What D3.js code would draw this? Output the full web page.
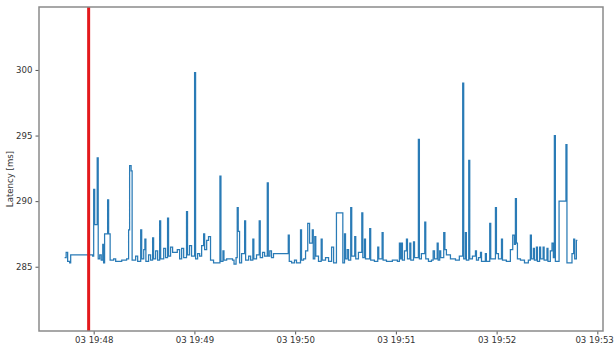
<!DOCTYPE html>
<html>
<head>
<meta charset="utf-8">
<script src="https://cdn.jsdelivr.net/npm/d3@7"></script>
<style>
  body { margin: 0; background: #fff; }
  svg { font-family: "DejaVu Sans", sans-serif; }
</style>
</head>
<body>
<div id="chart"></div>
<script>
// seconds after 19:47:00 on the 3rd, and latency in ms at that moment
const secs = [
  42.7, 43.6, 44.5, 45.7, 46.3, 59.4, 60.0, 60.6, 62.1, 62.7, 63.6, 64.5, 65.4, 65.9, 66.5, 68.3, 68.9, 69.8,
  71.9, 73.1, 76.7, 79.6, 80.8, 81.4, 82.3, 82.9, 85.0, 86.2, 88.0, 88.6, 89.8, 90.5, 91.1, 92.7, 93.9,
  95.1, 95.7, 96.9, 98.1, 99.3, 99.9, 101.7, 102.8, 104.0, 104.6, 105.8, 107.0, 109.8, 111.2, 112.4,
  113.6, 115.3, 115.9, 117.1, 118.3, 120.1, 120.7, 121.9, 123.1, 124.3, 125.5, 126.1, 127.3, 128.4,
  129.6, 131.4, 135.2, 135.8, 137.0, 137.6, 139.2, 142.7, 143.6, 144.8, 145.5, 146.1, 146.9, 148.1,
  149.9, 150.5, 152.3, 153.5, 154.8, 155.4, 157.0, 158.6, 159.2, 160.6, 161.8, 163.4, 164.0, 164.9,
  165.9, 167.1, 168.9, 175.9, 176.5, 177.9, 179.6, 180.8, 183.2, 183.8, 185.0, 186.2, 187.5, 188.6,
  190.2, 190.8, 191.7, 192.3, 193.9, 195.5, 196.1, 198.1, 199.9, 201.7, 202.9, 204.6, 208.4, 209.4,
  210.0, 211.0, 211.8, 213.1, 213.7, 215.5, 216.1, 217.7, 219.7, 220.3, 221.3, 221.9, 224.4, 225.0,
  227.2, 229.2, 229.8, 231.8, 232.4, 234.4, 237.9, 240.9, 242.1, 242.7, 243.3, 243.9, 245.1, 246.3,
  246.9, 248.3, 248.9, 250.5, 251.1, 253.4, 254.0, 255.2, 257.2, 257.8, 259.4, 261.2, 262.2, 263.0,
  264.6, 265.2, 266.1, 266.7, 268.5, 269.2, 270.1, 272.5, 275.5, 277.8, 279.8, 280.4, 281.4, 282.0,
  283.4, 284.0, 285.6, 287.4, 288.0, 289.2, 290.4, 291.0, 293.3, 293.9, 295.9, 296.5, 299.3, 299.9,
  301.1, 302.9, 303.5, 305.8, 308.2, 309.6, 310.6, 311.2, 311.8, 312.4, 314.2, 316.6, 318.9, 320.1,
  320.7, 321.9, 322.5, 323.7, 324.3, 325.6, 326.2, 327.7, 328.3, 330.0, 330.6, 332.0, 333.0, 333.8,
  334.4, 335.0, 337.2, 341.3, 341.9, 344.5, 344.9, 345.9, 346.5, 347.5, 348.1
];
const latency = [
  285.7, 286.1, 285.4, 285.3, 285.9, 285.8, 290.9, 288.2, 293.3, 285.6, 285.9, 285.5, 286.7, 285.3, 287.5, 290.1, 287.5, 285.5,
  285.6, 285.4, 285.5, 285.6, 287.8, 292.7, 292.3, 285.5, 285.8, 285.4, 287.8, 285.6, 286.3, 287.1, 285.4, 285.9, 285.5,
  287.2, 285.6, 286.2, 285.5, 288.5, 285.6, 286.4, 285.7, 288.7, 285.8, 286.5, 286.1, 286.3, 285.6, 286.4,
  285.7, 289.2, 285.9, 286.6, 285.8, 299.8, 285.6, 286.0, 285.8, 286.6, 287.5, 286.3, 287.0, 287.3,
  285.5, 285.3, 291.9, 285.4, 286.2, 285.5, 285.6, 285.5, 285.2, 285.7, 289.5, 287.7, 285.3, 286.0,
  288.5, 285.5, 285.8, 285.5, 287.1, 285.6, 285.9, 288.5, 285.7, 286.1, 285.8, 291.4, 285.8, 286.2,
  285.7, 286.0, 286.0, 287.4, 285.4, 285.3, 285.5, 285.3, 287.8, 285.5, 285.6, 286.2, 288.3, 286.8,
  287.8, 285.6, 287.3, 285.8, 285.4, 287.1, 285.5, 285.7, 285.4, 286.5, 285.3, 289.1, 285.3, 287.5,
  285.6, 286.3, 285.5, 289.5, 285.8, 287.3, 285.6, 286.1, 289.1, 285.7, 287.1, 285.6, 287.9, 285.5,
  285.4, 286.5, 285.6, 287.6, 285.5, 285.4, 285.5, 285.4, 286.8, 285.6, 286.8, 285.5, 286.2, 287.1,
  285.6, 286.8, 285.5, 286.9, 285.7, 294.7, 285.6, 286.0, 288.4, 285.6, 285.4, 285.5, 286.2, 285.6,
  286.8, 285.5, 286.2, 285.7, 287.6, 286.3, 285.9, 285.6, 285.5, 285.8, 299.0, 285.6, 287.6, 285.5,
  293.1, 285.6, 285.8, 286.2, 285.5, 285.7, 286.1, 285.4, 286.0, 285.4, 288.3, 285.6, 289.5, 286.0,
  285.6, 287.1, 285.5, 285.4, 286.3, 287.4, 286.7, 290.2, 286.8, 285.6, 285.5, 285.3, 285.5, 287.4,
  285.6, 286.4, 285.5, 286.5, 285.4, 286.5, 285.6, 286.5, 285.5, 286.4, 285.4, 286.2, 286.8, 285.7,
  295.0, 285.4, 290.0, 294.3, 285.3, 285.3, 286.0, 287.1, 285.6, 287.0, 287.0
];
const markerSec = 57.0;          // red vertical marker
const yLimits = [280.1, 304.8];
const yTickValues = [285, 290, 295, 300];

const width = 614, height = 347;
const margin = { top: 7, right: 11, bottom: 16, left: 39 };

const base = new Date(2021, 0, 3, 19, 47, 0);
const toDate = s => new Date(base.getTime() + s * 1000);
const data = secs.map((s, i) => ({ t: toDate(s), v: latency[i] }));

const svg = d3.select('#chart')
  .append('svg')
  .attr('width', width)
  .attr('height', height);

const ext = d3.extent(secs);
const pad = (ext[1] - ext[0]) * 0.05;
const x = d3.scaleTime()
  .domain([toDate(ext[0] - pad), toDate(ext[1] + pad)])
  .range([margin.left, width - margin.right]);

const y = d3.scaleLinear()
  .domain(yLimits)
  .range([height - margin.bottom, margin.top]);

// data line
const line = d3.line()
  .x(d => x(d.t))
  .y(d => y(d.v))
  .curve(d3.curveStepAfter);

svg.append('path')
  .datum(data)
  .attr('d', line)
  .attr('fill', 'none')
  .attr('stroke', '#2a7bb6')
  .attr('stroke-width', 1.25);

// red marker
svg.append('line')
  .attr('x1', x(toDate(markerSec)))
  .attr('x2', x(toDate(markerSec)))
  .attr('y1', margin.top)
  .attr('y2', height - margin.bottom)
  .attr('stroke', '#e3191c')
  .attr('stroke-width', 3);

// axes
const xAxis = d3.axisBottom(x)
  .ticks(d3.timeMinute.every(1))
  .tickFormat(d3.timeFormat('%d %H:%M'))
  .tickSize(3.5)
  .tickPadding(2.5);
const yAxis = d3.axisLeft(y)
  .tickValues(yTickValues)
  .tickSize(3.5)
  .tickPadding(3);

const gx = svg.append('g')
  .attr('transform', `translate(0,${height - margin.bottom})`)
  .call(xAxis);
const gy = svg.append('g')
  .attr('transform', `translate(${margin.left},0)`)
  .call(yAxis);

[gx, gy].forEach(g => {
  g.select('.domain').remove();
  g.selectAll('.tick line').attr('stroke', '#555');
  g.selectAll('.tick text')
    .attr('fill', '#333')
    .style('font-size', '8.6px')
    .style('font-family', '"DejaVu Sans", sans-serif');
});

// last x label sits against the right edge of the picture
gx.selectAll('.tick text')
  .filter((d, i, n) => i === n.length - 1)
  .attr('text-anchor', 'end')
  .attr('dx', '16');

// frame
svg.append('rect')
  .attr('x', margin.left)
  .attr('y', margin.top)
  .attr('width', width - margin.left - margin.right)
  .attr('height', height - margin.top - margin.bottom)
  .attr('fill', 'none')
  .attr('stroke', '#8a8a8a')
  .attr('stroke-width', 1.5);

svg.append('text')
  .text('Latency [ms]')
  .attr('transform', `translate(13,${(margin.top + height - margin.bottom) / 2 + 10}) rotate(-90)`)
  .attr('text-anchor', 'middle')
  .attr('fill', '#333')
  .style('font-size', '8.6px');
</script>
</body>
</html>
